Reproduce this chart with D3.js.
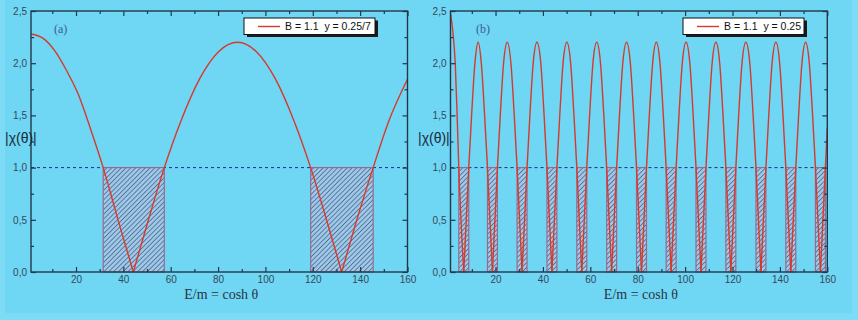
<!DOCTYPE html>
<html lang="en">
<head>
<meta charset="utf-8">
<title>|χ(θ)| versus E/m = cosh θ</title>
<style>
  body { margin: 0; background: #7ddbf6; }
  .tick text { font-family: Arial, "Liberation Sans", sans-serif; font-size: 10px; fill: #34495a; }
  .tick line { stroke: #22384a; stroke-width: 1.2; }
  .legendText { font-family: Arial, "Liberation Sans", sans-serif; font-size: 10.5px; fill: #111; white-space: pre; }
  .panelTag { font-family: "Liberation Serif", "Times New Roman", serif; font-size: 12px; fill: #3d5a9a; }
  .yTitle { font-family: Arial, "Liberation Sans", sans-serif; font-size: 14px; fill: #1d2a3a; }
  .xTitle { font-family: "Liberation Serif", "Times New Roman", serif; font-size: 14px; fill: #2a3444; }
</style>
</head>
<body>
<div id="chart"></div>
<script src="https://cdn.jsdelivr.net/npm/d3@7"></script>
<script>

// ticks
var xTicks = [20, 40, 60, 80, 100, 120, 140, 160],
    xMinor = [10, 30, 50, 70, 90, 110, 130, 150],
    yTicks = [0, 0.5, 1.0, 1.5, 2.0, 2.5],
    yMinor = [0.25, 0.75, 1.25, 1.75, 2.25];

// panel (a): B = 1.1, y = 0.25/7 — curve split at its zeros
var curveA = [
  [[1, 2.28], [6, 2.24], [11, 2.12], [16, 1.93], [21, 1.70], [26, 1.38], [31.5, 1.0], [38, 0.48], [44.2, 0]],
  [[44.2, 0], [50.2, 0.47], [57.3, 1.0], [64.2, 1.44], [72.2, 1.85], [80.2, 2.11], [88.2, 2.2],
   [96.2, 2.11], [104.2, 1.85], [112.2, 1.44], [119.1, 1.0], [126.2, 0.47], [132.2, 0]],
  [[132.2, 0], [138.2, 0.47], [145.5, 1.0], [152, 1.44], [160, 1.846]]
];
var boxesA = [[31.5, 57.3], [119.1, 145.5]];

// panel (b): B = 1.1, y = 0.25
var curveB = [
  [[1, 2.48], [2.0, 2.3], [3.0, 2.0], [3.8, 1.5], [4.5, 1.0], [6.6, 0]],
  [[6.6, 0], [8.7, 1], [9.9, 1.5], [11.3, 2.0], [12.65, 2.2], [14.0, 2.0], [15.4, 1.5], [16.6, 1], [18.7, 0]],
  [[18.7, 0], [20.8, 1], [22.0, 1.5], [23.4, 2.0], [24.95, 2.2], [26.5, 2.0], [27.9, 1.5], [29.1, 1], [31.2, 0]],
  [[31.2, 0], [33.3, 1], [34.5, 1.5], [35.9, 2.0], [37.5, 2.2], [39.1, 2.0], [40.5, 1.5], [41.7, 1], [43.8, 0]],
  [[43.8, 0], [45.9, 1], [47.1, 1.5], [48.5, 2.0], [50.1, 2.2], [51.7, 2.0], [53.1, 1.5], [54.3, 1], [56.4, 0]],
  [[56.4, 0], [58.5, 1], [59.7, 1.5], [61.1, 2.0], [62.7, 2.2], [64.3, 2.0], [65.7, 1.5], [66.9, 1], [69.0, 0]],
  [[69.0, 0], [71.1, 1], [72.3, 1.5], [73.7, 2.0], [75.3, 2.2], [76.9, 2.0], [78.3, 1.5], [79.5, 1], [81.6, 0]],
  [[81.6, 0], [83.7, 1], [84.9, 1.5], [86.3, 2.0], [87.85, 2.2], [89.4, 2.0], [90.8, 1.5], [92.0, 1], [94.1, 0]],
  [[94.1, 0], [96.2, 1], [97.4, 1.5], [98.8, 2.0], [100.4, 2.2], [102.0, 2.0], [103.4, 1.5], [104.6, 1], [106.7, 0]],
  [[106.7, 0], [108.8, 1], [110.0, 1.5], [111.4, 2.0], [113.0, 2.2], [114.6, 2.0], [116.0, 1.5], [117.2, 1], [119.3, 0]],
  [[119.3, 0], [121.4, 1], [122.6, 1.5], [124.0, 2.0], [125.65, 2.2], [127.3, 2.0], [128.7, 1.5], [129.9, 1], [132.0, 0]],
  [[132.0, 0], [134.1, 1], [135.3, 1.5], [136.7, 2.0], [138.3, 2.2], [139.9, 2.0], [141.3, 1.5], [142.5, 1], [144.6, 0]],
  [[144.6, 0], [146.7, 1], [147.9, 1.5], [149.3, 2.0], [150.85, 2.2], [152.4, 2.0], [153.8, 1.5], [155.0, 1], [157.1, 0]],
  [[157.1, 0], [159.2, 1], [160, 1.38]]
];
var boxesB = [[4.5, 8.7], [16.6, 20.8], [29.1, 33.3], [41.7, 45.9], [54.3, 58.5], [66.9, 71.1], [79.5, 83.7],
              [92.0, 96.2], [104.6, 108.8], [117.2, 121.4], [129.9, 134.1], [142.5, 146.7], [155.0, 159.2]];

var threshold = 1.0;

var panels = [
  {tag: "(a)", legend: "B = 1.1  y = 0.25/7", curve: curveA, boxes: boxesA,
   left: 31, right: 407.5, tagX: 54, titleX: 5, legendX: 244, legendW: 131},
  {tag: "(b)", legend: "B = 1.1  y = 0.25", curve: curveB, boxes: boxesB,
   left: 450.5, right: 827.3, tagX: 476, titleX: 418, legendX: 683, legendW: 121}
];

var W = 858, H = 320, plotTop = 11, plotBottom = 272;

var svg = d3.select("#chart").append("svg")
    .attr("width", W)
    .attr("height", H);

svg.append("rect").attr("width", W).attr("height", H).attr("fill", "#7ddbf6");
svg.append("rect").attr("x", 5).attr("y", 0).attr("width", 847).attr("height", 313).attr("fill", "#6fd6f4");

var defs = svg.append("defs");
var pat = defs.append("pattern")
    .attr("id", "hatch")
    .attr("patternUnits", "userSpaceOnUse")
    .attr("width", 3.4)
    .attr("height", 3.4)
    .attr("patternTransform", "rotate(45)");
pat.append("rect").attr("width", 3.4).attr("height", 3.4).attr("fill", "#9cc9e6");
pat.append("line").attr("x1", 0).attr("y1", 0).attr("x2", 0).attr("y2", 3.4)
    .attr("stroke", "#4f5f8e").attr("stroke-width", 1.5);

var y = d3.scaleLinear().domain([0, 2.5]).range([plotBottom, plotTop]);
var fmt = function(d){ return d3.format(".1f")(d).replace(".", ","); };

panels.forEach(function(p, i){

  var x = d3.scaleLinear().domain([1, 160]).range([p.left, p.right]);
  var g = svg.append("g");

  defs.append("clipPath").attr("id", "clip" + i)
    .append("rect").attr("x", p.left).attr("y", plotTop).attr("width", p.right - p.left).attr("height", plotBottom - plotTop);

  // threshold line
  g.append("line")
    .attr("x1", p.left).attr("x2", p.right)
    .attr("y1", y(threshold)).attr("y2", y(threshold))
    .attr("stroke", "#1c2f8a").attr("stroke-width", 1).attr("stroke-dasharray", "3,3");

  // hatched regions
  g.selectAll("rect.box")
    .data(p.boxes)
    .enter()
    .append("rect")
    .attr("class", "box")
    .attr("x", function(d){ return x(d[0]); })
    .attr("width", function(d){ return x(d[1]) - x(d[0]); })
    .attr("y", y(threshold))
    .attr("height", y(0) - y(threshold))
    .attr("fill", "url(#hatch)")
    .attr("stroke", "#9a6a8c")
    .attr("stroke-width", 1.2);

  // curve
  var line = d3.line()
    .x(function(d){ return x(d[0]); })
    .y(function(d){ return y(d[1]); })
    .curve(d3.curveMonotoneX);

  g.append("g").attr("clip-path", "url(#clip" + i + ")")
    .selectAll("path")
    .data(p.curve)
    .enter()
    .append("path")
    .attr("d", line)
    .attr("fill", "none")
    .attr("stroke", "#d8392b")
    .attr("stroke-width", 1.4)
    .attr("stroke-linejoin", "round");

  // axes, ticks pointing inward
  var axes = [
    [d3.axisBottom(x).tickValues(xTicks).tickSize(-5).tickPadding(4).tickFormat(d3.format("d")), "translate(0," + plotBottom + ")"],
    [d3.axisBottom(x).tickValues(xMinor).tickSize(-3).tickFormat(""), "translate(0," + plotBottom + ")"],
    [d3.axisTop(x).tickValues(xTicks).tickSize(-5).tickFormat(""), "translate(0," + plotTop + ")"],
    [d3.axisTop(x).tickValues(xMinor).tickSize(-3).tickFormat(""), "translate(0," + plotTop + ")"],
    [d3.axisLeft(y).tickValues(yTicks).tickSize(-5).tickPadding(4).tickFormat(fmt), "translate(" + p.left + ",0)"],
    [d3.axisLeft(y).tickValues(yMinor).tickSize(-3).tickFormat(""), "translate(" + p.left + ",0)"],
    [d3.axisRight(y).tickValues(yTicks).tickSize(-5).tickFormat(""), "translate(" + p.right + ",0)"],
    [d3.axisRight(y).tickValues(yMinor).tickSize(-3).tickFormat(""), "translate(" + p.right + ",0)"]
  ];
  axes.forEach(function(a){
    var ag = g.append("g").attr("transform", a[1]).call(a[0].tickSizeOuter(0));
    ag.select(".domain").remove();
  });

  g.append("rect")
    .attr("x", p.left).attr("y", plotTop)
    .attr("width", p.right - p.left).attr("height", plotBottom - plotTop)
    .attr("fill", "none").attr("stroke", "#22384a").attr("stroke-width", 1.4);

  // panel tag
  g.append("text").attr("class", "panelTag").attr("x", p.tagX).attr("y", 33).text(p.tag);

  // legend with shadow
  g.append("rect").attr("x", p.legendX + 3).attr("y", 20.5).attr("width", p.legendW).attr("height", 16.5).attr("fill", "#1a1a1a");
  g.append("rect").attr("x", p.legendX).attr("y", 18).attr("width", p.legendW).attr("height", 16.5)
    .attr("fill", "#ffffff").attr("stroke", "#111").attr("stroke-width", 1);
  g.append("line").attr("x1", p.legendX + 14).attr("x2", p.legendX + 36).attr("y1", 26.5).attr("y2", 26.5)
    .attr("stroke", "#d8392b").attr("stroke-width", 1.4);
  g.append("text").attr("class", "legendText").attr("x", p.legendX + 41).attr("y", 30).text(p.legend);

  // axis titles
  g.append("text").attr("class", "yTitle").attr("x", p.titleX).attr("y", 143).text("|χ(θ)|");
  g.append("text").attr("class", "xTitle").attr("text-anchor", "middle")
    .attr("x", (p.left + p.right) / 2 + 2).attr("y", 299).text("E/m = cosh θ");
});

</script>
</body>
</html>
